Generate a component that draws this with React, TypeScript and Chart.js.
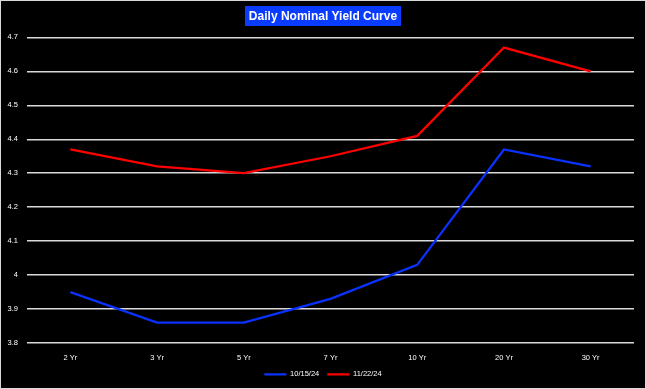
import React, { useEffect, useRef } from "react";
import { Chart, registerables } from "chart.js";

Chart.register(...registerables);

const categories = ["2 Yr", "3 Yr", "5 Yr", "7 Yr", "10 Yr", "20 Yr", "30 Yr"];
const seriesOct = [3.95, 3.86, 3.86, 3.93, 4.03, 4.37, 4.32];
const seriesNov = [4.37, 4.32, 4.3, 4.35, 4.41, 4.67, 4.6];
const seriesLabels = ["10/15/24", "11/22/24"];
const yMin = 3.8;
const yMax = 4.7;
const yStep = 0.1;
const titleText = "Daily Nominal Yield Curve";

const FONT = "'Liberation Sans', Arial, sans-serif";

const bgPlugin = {
  id: "bgAndTitleBox",
  beforeDraw(chart: any) {
    const ctx = chart.ctx;
    ctx.save();
    ctx.fillStyle = "#000000";
    ctx.fillRect(0, 0, chart.width, chart.height);
    const tb = chart.titleBlock;
    if (tb) {
      const opts = tb.options;
      const fontSize = opts.font.size;
      ctx.font = `bold ${fontSize}px ${FONT}`;
      const w = ctx.measureText(titleText).width;
      const cx = (tb.left + tb.right) / 2;
      const cy = tb.top + opts.padding.top + (fontSize * 1.2) / 2;
      ctx.fillStyle = "#0a3cff";
      ctx.fillRect(Math.round(cx - w / 2 - 4), Math.round(cy - 10), Math.round(w + 8), 20);
    }
    ctx.restore();
  },
};

export default function App() {
  const ref = useRef<HTMLCanvasElement | null>(null);
  useEffect(() => {
    document.body.style.margin = "0";
    if (!ref.current) return;
    const chart = new Chart(ref.current, {
      type: "line",
      data: {
        labels: categories,
        datasets: [
          {
            label: seriesLabels[0],
            data: seriesOct,
            borderColor: "#0a32ff",
            backgroundColor: "#0a32ff",
            borderWidth: 2.25,
            pointRadius: 0,
            tension: 0,
          },
          {
            label: seriesLabels[1],
            data: seriesNov,
            borderColor: "#ff0000",
            backgroundColor: "#ff0000",
            borderWidth: 2.25,
            pointRadius: 0,
            tension: 0,
          },
        ],
      },
      options: {
        animation: false,
        responsive: false,
        maintainAspectRatio: false,
        layout: { padding: { left: 0, right: 0, bottom: 0 } },
        plugins: {
          title: {
            display: true,
            text: titleText,
            color: "#ffffff",
            font: { family: FONT, size: 12, weight: "bold" },
            padding: { top: 8, bottom: 14 },
          },
          legend: {
            position: "bottom",
            labels: {
              color: "#ffffff",
              font: { family: FONT, size: 7.5 },
              usePointStyle: true,
              pointStyle: "line",
              pointStyleWidth: 22,
              padding: 8,
            },
          },
          tooltip: { enabled: false },
        },
        scales: {
          x: {
            offset: true,
            grid: { display: false, drawTicks: false },
            border: { display: false },
            ticks: { color: "#ffffff", font: { family: FONT, size: 7.5 }, padding: 10 },
            afterFit: (scale: any) => {
              scale.height = 19.5;
            },
          },
          y: {
            min: yMin,
            max: yMax,
            border: { display: false },
            grid: { color: "#d9d9d9", lineWidth: 1.5, drawTicks: false },
            ticks: {
              stepSize: yStep,
              color: "#ffffff",
              font: { family: FONT, size: 7.5 },
              padding: 9,
              callback: (v: any) => String(parseFloat(Number(v).toFixed(1))),
            },
            afterFit: (scale: any) => {
              scale.width = 26;
            },
          },
          yRight: {
            position: "right",
            min: yMin,
            max: yMax,
            display: true,
            border: { display: false },
            grid: { display: false, drawTicks: false },
            ticks: { display: false },
            afterFit: (scale: any) => {
              scale.width = 11;
            },
          },
        },
      },
      plugins: [bgPlugin],
    });
    return () => chart.destroy();
  }, []);
  return (
    <div
      style={{
        position: "fixed",
        left: 0,
        top: 0,
        width: 646,
        height: 389,
        boxSizing: "border-box",
        border: "1px solid #d9d9d9",
        background: "#000",
      }}
    >
      <canvas ref={ref} width={644} height={387} style={{ display: "block" }} />
    </div>
  );
}
